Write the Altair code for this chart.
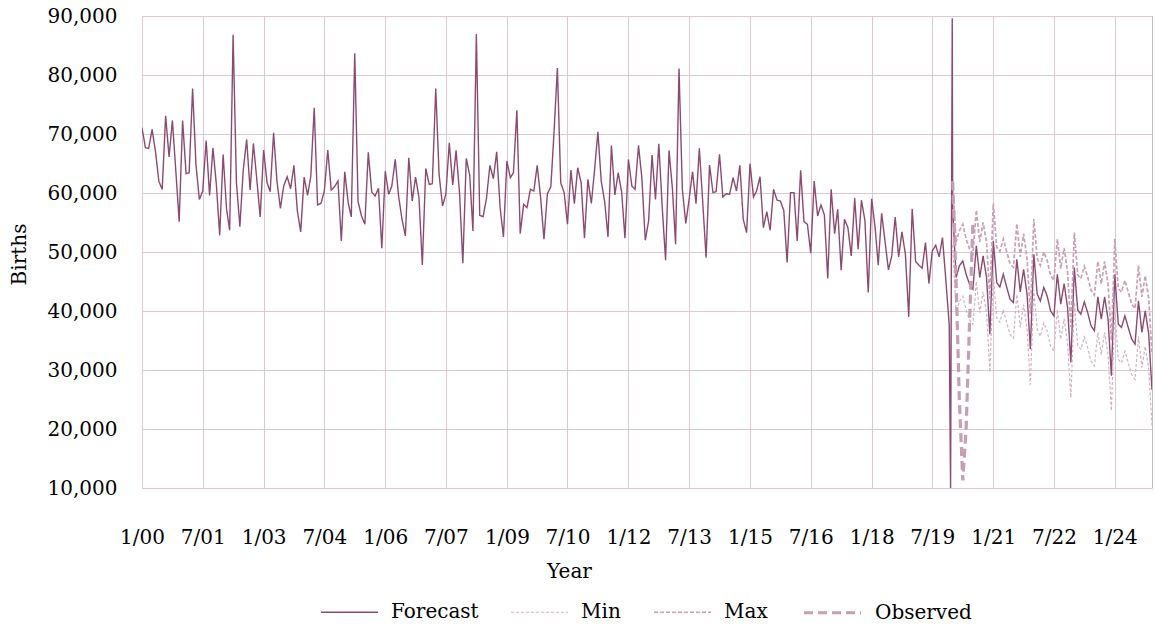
import altair as alt
import pandas as pd

# ---------------- data ----------------
# Monthly forecast series, Jan 2000 .. Dec 2019
forecast_hist = [
    71050, 67670, 67560, 70770, 67100, 62000, 60600, 73100, 66100, 72300,
    63700, 55150, 72300, 63270, 63440, 77700, 64850, 58900, 60300, 68900,
    59600, 67670, 61460, 52830, 66540, 57230, 53680, 86840, 61740, 54300,
    63830, 69080, 60500, 68400, 62200, 55940, 67270, 61740, 60220, 70200,
    62020, 57400, 61180, 62760, 60730, 64680, 56950, 53400, 62700, 59600,
    62870, 74430, 57970, 58250, 60340, 67270, 60500, 61070, 62020, 51870,
    63600, 58360, 55940, 83680, 58530, 56100, 54700, 66880, 60160, 59490,
    60790, 50630, 63700, 59770, 61180, 65690, 59490, 55540, 52720, 65970,
    58640, 62700, 59200, 47810, 64150, 61460, 61570, 77700, 63150, 57800,
    59770, 68510, 61350, 67220, 60060, 48100, 65860, 63040, 53560, 86950,
    56220, 55990, 59090, 64680, 62420, 66990, 57520, 52550, 65410, 62590,
    63440, 74040, 53110, 58080, 57520, 60620, 60340, 64680, 59200, 52150,
    59880, 61070, 70000, 81200, 61740, 60060, 54700, 63890, 58190, 64280,
    61740, 52330, 62310, 58250, 63720, 70370, 62020, 58530, 52550, 68060,
    59660, 63440, 60160, 52330, 65690, 61180, 60620, 68060, 62590, 51980,
    55250, 66420, 58920, 68340, 57500, 48600, 67220, 60620, 51310, 81090,
    60620, 54860, 58920, 63610, 58190, 67560, 58360, 49050, 64740, 60060,
    60220, 66540, 59320, 59880, 59770, 62590, 60340, 64680, 55540, 53280,
    64970, 59320, 60340, 62760, 54130, 56840, 53680, 60620, 58810, 58640,
    57070, 48210, 60060, 60060, 51870, 63830, 55150, 54700, 49790, 62020,
    56100, 57970, 56280, 45500, 60620, 53110, 57230, 46910, 55540, 54130,
    49340, 59090, 50460, 58750, 55370, 43130, 59030, 54130, 47760, 56560,
    51870, 46970, 49340, 55940, 49170, 53400, 49620, 39010, 57340, 48380,
    47810, 47250, 51590, 44650, 50190, 51150, 49170, 52440, 45100, 37600,
]
# the sharp spike drawn between Dec 2019 and Jan 2020
spike_dates = ["2019-12-13", "2019-12-28"]
spike_vals = [10000, 89600]

# Monthly forecast / min / max, Jan 2020 .. Dec 2024
forecast_future = [
    57230, 45670, 47640, 48490, 46230, 44540, 43700, 51030, 45670, 49340,
    45670, 36080, 51870, 44820, 44090, 46230, 44090, 42000, 41440, 48770,
    43240, 47080, 42850, 33540, 49620, 42850, 41720, 43980, 42570, 40030,
    39180, 46230, 41160, 44650, 40590, 31290, 47360, 40140, 39470, 41550,
    39750, 37490, 36650, 42400, 38620, 42400, 38620, 29030, 46230, 37770,
    37210, 39180, 37210, 35240, 34390, 41720, 36360, 40030, 36190, 26600,
]
min_vals = [
    51200, 39700, 41600, 42500, 40200, 38500, 37700, 45000, 39700, 43300,
    39700, 29600, 45900, 38800, 38100, 40200, 38100, 36000, 35400, 42800,
    37200, 41100, 36900, 27500, 43600, 36900, 35700, 38000, 36600, 34000,
    33200, 40200, 35200, 38700, 34600, 25300, 41400, 34100, 33500, 35600,
    33800, 31500, 30700, 36400, 32600, 36400, 32600, 23100, 40200, 31800,
    31200, 33200, 31200, 29200, 28400, 35700, 30400, 34000, 30200, 20600,
]
max_vals = [
    62000, 51700, 53600, 54700, 52200, 50500, 49700, 57100, 51700, 55000,
    51700, 42100, 58200, 50800, 50100, 52200, 50100, 48000, 47400, 54800,
    49200, 53100, 48900, 39500, 55600, 48900, 47700, 50000, 48600, 46000,
    45200, 52200, 47200, 50700, 46600, 37300, 53300, 46100, 45500, 47600,
    45800, 43500, 42700, 48400, 44600, 48400, 44600, 35000, 52200, 43800,
    43200, 45200, 43200, 41200, 40400, 47700, 42400, 46000, 42200, 32600,
]
# Observed, Jan 2020 .. Jul 2020
observed_vals = [62000, 45000, 25000, 11300, 20000, 38000, 55000]

series_names = ["Forecast", "Min", "Max", "Observed"]
series_colors = ["#8b4a70", "#d2b1c2", "#c9a0b5", "#c59fb3"]
series_dash = [[1, 0], [3, 2], [4, 2], [9, 5]]
series_width = [1.4, 1.2, 1.7, 3.2]

tick_labels_dates = [
    (2000, 1), (2001, 7), (2003, 1), (2004, 7), (2006, 1), (2007, 7),
    (2009, 1), (2010, 7), (2012, 1), (2013, 7), (2015, 1), (2016, 7),
    (2018, 1), (2019, 7), (2021, 1), (2022, 7), (2024, 1),
]
y_ticks = [10000, 20000, 30000, 40000, 50000, 60000, 70000, 80000, 90000]

# ---------------- build table ----------------
hist_dates = [d.strftime("%Y-%m-%d") for d in pd.date_range("2000-01-01", periods=len(forecast_hist), freq="MS")]
fut_dates = [d.strftime("%Y-%m-%d") for d in pd.date_range("2020-01-01", periods=len(forecast_future), freq="MS")]

rows = []
for d, v in zip(hist_dates, forecast_hist):
    rows.append(("Forecast", d, v))
for d, v in zip(spike_dates, spike_vals):
    rows.append(("Forecast", d, v))
for d, v in zip(fut_dates, forecast_future):
    rows.append(("Forecast", d, v))
for d, v in zip(fut_dates, min_vals):
    rows.append(("Min", d, v))
for d, v in zip(fut_dates, max_vals):
    rows.append(("Max", d, v))
for d, v in zip(fut_dates, observed_vals):
    rows.append(("Observed", d, v))
df = pd.DataFrame(rows, columns=["series", "date", "value"])

FONT = "DejaVu Serif"
GRID = "#dcc8d3"

x_values = [alt.DateTime(year=y, month=m, date=1, utc=True) for y, m in tick_labels_dates]

legend_cfg = dict(
    title=None, orient="none", direction="horizontal", legendX=178, legendY=566,
    symbolType="stroke", symbolSize=3249,
    labelFont=FONT, labelFontSize=20, labelColor="#000000", labelOffset=12,
    columnPadding=29, padding=0,
)

chart = alt.Chart(df).mark_line(clip=True).encode(
    x=alt.X(
        "date:T",
        scale=alt.Scale(
            type="utc",
            domain=[alt.DateTime(year=2000, month=1, date=1, utc=True),
                    alt.DateTime(year=2024, month=12, date=1, utc=True)],
        ),
        axis=alt.Axis(
            values=x_values, format="%-m/%y", title="Year",
            grid=True, gridColor=GRID, gridWidth=1,
            ticks=False, tickSize=0, domain=False,
            labelPadding=39, labelBaseline="top", labelFontSize=20, labelFont=FONT,
            labelColor="#000000", labelOverlap=False, labelFlush=False,
            titleFont=FONT, titleFontSize=20, titleFontWeight="normal", titleColor="#000000",
            titleX=427, titleY=83, titleBaseline="middle", titleAlign="center",
        ),
    ),
    y=alt.Y(
        "value:Q",
        scale=alt.Scale(domain=[10000, 90000], nice=False, zero=False),
        axis=alt.Axis(
            values=y_ticks, format=",d", title="Births",
            grid=True, gridColor=GRID, gridWidth=1,
            ticks=False, tickSize=0, domain=False,
            labelPadding=25, labelFontSize=20, labelFont=FONT, labelColor="#000000",
            labelBaseline="middle",
            titleFont=FONT, titleFontSize=20, titleFontWeight="normal", titleColor="#000000",
            titleAngle=270, titleX=-123, titleY=238, titleAlign="center", titleBaseline="middle",
        ),
    ),
    color=alt.Color(
        "series:N",
        scale=alt.Scale(domain=series_names, range=series_colors),
        legend=alt.Legend(**legend_cfg),
    ),
    strokeDash=alt.StrokeDash(
        "series:N",
        scale=alt.Scale(domain=series_names, range=series_dash),
        legend=alt.Legend(**legend_cfg),
    ),
    strokeWidth=alt.StrokeWidth(
        "series:O",
        scale=alt.Scale(type="ordinal", domain=series_names, range=series_width),
        legend=alt.Legend(**legend_cfg),
    ),
).properties(
    width=1010,
    height=472,
    autosize=alt.AutoSizeParams(type="none"),
    padding={"left": 142, "top": 16, "right": 3, "bottom": 140},
    background="#ffffff",
).configure_view(
    stroke="#d0b4c3", strokeWidth=1,
)

chart.save("out.html", embed_options={"renderer": "svg", "actions": False})
